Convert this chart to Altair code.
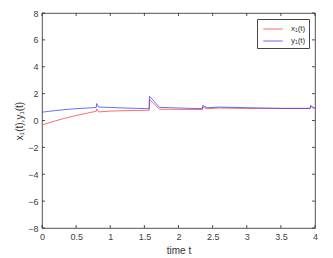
import altair as alt
import pandas as pd

t_x = [0, 0.1, 0.2, 0.3, 0.4, 0.5, 0.6, 0.7, 0.795, 0.80, 0.83, 1.0, 1.2, 1.4, 1.57, 1.575, 1.72, 2.0, 2.35, 2.355, 2.42, 2.6, 3.0, 3.5, 3.93, 3.935, 3.98, 4.0]
x1 = [-0.35, -0.17, -0.02, 0.12, 0.25, 0.37, 0.48, 0.59, 0.69, 0.86, 0.64, 0.70, 0.73, 0.75, 0.76, 1.58, 0.84, 0.83, 0.82, 1.0, 0.88, 0.93, 0.9, 0.9, 0.9, 1.05, 0.92, 0.92]
t_y = [0, 0.1, 0.2, 0.3, 0.4, 0.5, 0.6, 0.7, 0.795, 0.80, 0.83, 1.0, 1.2, 1.4, 1.57, 1.575, 1.72, 2.0, 2.35, 2.355, 2.42, 2.6, 3.0, 3.5, 3.93, 3.935, 3.98, 4.0]
y1 = [0.62, 0.68, 0.74, 0.79, 0.84, 0.88, 0.91, 0.94, 0.97, 1.26, 1.0, 0.97, 0.93, 0.90, 0.88, 1.81, 0.98, 0.93, 0.88, 1.12, 0.95, 1.0, 0.95, 0.9, 0.9, 1.12, 0.95, 0.95]
series_names = ["x₁(t)", "y₁(t)"]
series_colors = ["#ff3b3b", "#3b3bff"]
x_ticks = [0, 0.5, 1, 1.5, 2, 2.5, 3, 3.5, 4]
y_ticks = [-8, -6, -4, -2, 0, 2, 4, 6, 8]

df = pd.concat([
    pd.DataFrame({"t": t_x, "v": x1, "s": series_names[0]}),
    pd.DataFrame({"t": t_y, "v": y1, "s": series_names[1]}),
])

FONT = "Liberation Sans"
xs = alt.Scale(domain=[0, 4], nice=False, zero=False)
ys = alt.Scale(domain=[-8, 8], nice=False, zero=False)
xaxis = alt.Axis(values=x_ticks, title="time t", grid=False, tickSize=0,
                 labelPadding=4, titlePadding=4, domain=False,
                 labelOverlap=False, labelFlush=False, format="~g",
                 titleFontWeight="normal")
yaxis = alt.Axis(values=y_ticks, title="x₁(t),y₁(t)", grid=False, tickSize=0,
                 labelPadding=4, titlePadding=3, domain=False,
                 labelOverlap=False, labelFlush=False, format="~g",
                 titleFontWeight="normal")

lines = alt.Chart(df).mark_line(strokeWidth=1, opacity=0.75).encode(
    x=alt.X("t:Q", scale=xs, axis=xaxis),
    y=alt.Y("v:Q", scale=ys, axis=yaxis),
    color=alt.Color("s:N", scale=alt.Scale(domain=series_names, range=series_colors),
                    legend=alt.Legend(title=None, orient="top-right", offset=6, fillColor="white",
                                      strokeColor="#444", padding=3, symbolType="M-1.6,0H1.6",
                                      symbolSize=150, symbolStrokeWidth=1, symbolOffset=6,
                                      labelOffset=11, labelFontSize=8, labelColor="#333",
                                      labelFont=FONT, rowPadding=1, labelLimit=60)),
    order=alt.Order("t:Q"),
)

xt = pd.DataFrame({"t": x_ticks})
yt = pd.DataFrame({"v": y_ticks})
tick_style = dict(color="#262626", strokeWidth=0.8)
bx = alt.Chart(xt).mark_rule(**tick_style).encode(x=alt.X("t:Q", scale=xs, axis=xaxis), y=alt.value(215), y2=alt.value(212))
tx = alt.Chart(xt).mark_rule(**tick_style).encode(x=alt.X("t:Q", scale=xs, axis=xaxis), y=alt.value(0), y2=alt.value(3))
ly = alt.Chart(yt).mark_rule(**tick_style).encode(y=alt.Y("v:Q", scale=ys, axis=yaxis), x=alt.value(0), x2=alt.value(3))
ry = alt.Chart(yt).mark_rule(**tick_style).encode(y=alt.Y("v:Q", scale=ys, axis=yaxis), x=alt.value(273), x2=alt.value(270))

chart = alt.layer(lines, bx, tx, ly, ry).properties(
    width=273, height=215,
    background="white",
    autosize=alt.AutoSizeParams(type="none"),
    padding={"left": 34, "top": 5, "right": 10, "bottom": 30},
).configure_view(stroke="#262626", strokeWidth=0.8).configure_axis(
    labelFont=FONT, titleFont=FONT, labelFontSize=9, titleFontSize=10,
    labelColor="#404040", titleColor="#333", titleFontWeight="normal",
)

chart.save("out.html", embed_options={"renderer": "svg", "actions": False})
